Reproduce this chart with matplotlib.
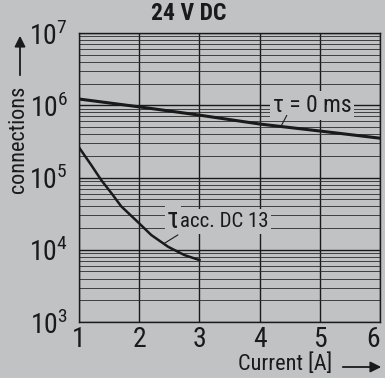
import numpy as np
import matplotlib
matplotlib.use("Agg")
import matplotlib.pyplot as plt
from matplotlib.ticker import LogLocator
from matplotlib.patches import FancyArrowPatch

plt.rcParams['font.family'] = ['Roboto Condensed', 'Sofia Sans Condensed', 'DejaVu Sans']
plt.rcParams['mathtext.fontset'] = 'custom'
plt.rcParams['mathtext.rm'] = 'Roboto Condensed'

# tau = 0 ms
cur_0 = [1, 2, 3, 4, 5, 6]
conn_0 = [1.22e6, 9.5e5, 7.3e5, 5.5e5, 4.4e5, 3.5e5]

# tau acc. DC 13
cur_dc13 = [1.01, 1.2, 1.37, 1.55, 1.7, 2.0, 2.2, 2.48, 2.75, 3.0]
conn_dc13 = [2.54e5, 1.5e5, 9.2e4, 5.9e4, 4.0e4, 2.32e4, 1.6e4, 1.1e4, 8.45e3, 7.2e3]

x_ticks = [1, 2, 3, 4, 5, 6]
y_ticks = [1e3, 1e4, 1e5, 1e6, 1e7]
y_labels = ["$10^3$", "$10^4$", "$10^5$", "$10^6$", "$10^7$"]

bg = "#c1c2c4"
ink = "#1a1a1a"

fig = plt.figure(figsize=(3.85, 3.78), dpi=100, facecolor=bg)
ax = fig.add_axes([79 / 385, 1 - 322 / 378, 301 / 385, 289 / 378], facecolor=bg)

ax.set_yscale("log")
ax.set_xlim(1, 6)
ax.set_ylim(1e3, 1e7)

ax.set_xticks(x_ticks)
ax.set_xticklabels([str(t) for t in x_ticks])
ax.set_yticks(y_ticks)
ax.set_yticklabels(y_labels)
ax.yaxis.set_minor_locator(LogLocator(base=10, subs=np.arange(2, 10)))
ax.yaxis.set_minor_formatter(plt.NullFormatter())
ax.tick_params(axis="both", which="both", length=0, labelsize=20, colors=ink)
ax.tick_params(axis="x", pad=3)
ax.tick_params(axis="y", pad=8)
ax.get_xticklabels()[-1].set_horizontalalignment("right")

ax.grid(True, which="major", axis="both", color=ink, lw=1.0)
ax.grid(True, which="minor", axis="y", color="#2a2a2a", lw=0.6)
for s in ax.spines.values():
    s.set_color(ink)
    s.set_linewidth(1.0)

ax.plot(cur_0, conn_0, color=ink, lw=2.2, zorder=5)
ax.plot(cur_dc13, conn_dc13, color=ink, lw=1.8, zorder=5)

ax.text(4.22, 1.0e6, "τ = 0 ms", fontsize=17, color=ink, ha="left", va="center",
        bbox=dict(facecolor=bg, edgecolor="none", pad=2), zorder=6)
ax.plot([4.45, 4.36], [7.2e5, 5.2e5], color=ink, lw=0.8, zorder=6)

ax.text(2.45, 2.55e4, "τ", fontsize=21, color=ink, ha="left", va="center",
        bbox=dict(facecolor=bg, edgecolor="none", pad=1), zorder=6)
ax.text(2.68, 2.45e4, "acc. DC 13", fontsize=15, color=ink, ha="left", va="center",
        bbox=dict(facecolor=bg, edgecolor="none", pad=2), zorder=6)
ax.plot([2.64, 2.42], [1.6e4, 1.23e4], color=ink, lw=0.8, zorder=6)

fig.text(0.49, 0.963, "24 V DC", fontsize=17, fontweight="bold", color=ink,
         ha="center", va="center")

fig.text(19 / 385, 1 - 139 / 378, "connections", rotation=90, fontsize=16,
         color=ink, ha="center", va="center")
fig.add_artist(FancyArrowPatch(
    (20 / 385, 1 - 78 / 378), (20 / 385, 1 - 33 / 378), transform=fig.transFigure,
    arrowstyle="-|>", mutation_scale=16, color=ink, lw=1.3))

fig.text(285 / 385, 1 - 364 / 378, "Current [A]", fontsize=16, color=ink,
         ha="center", va="center")
fig.add_artist(FancyArrowPatch(
    (340 / 385, 1 - 367 / 378), (384 / 385, 1 - 367 / 378), transform=fig.transFigure,
    arrowstyle="-|>", mutation_scale=16, color=ink, lw=1.3))

fig.savefig("out.png", dpi=100, facecolor=bg)
